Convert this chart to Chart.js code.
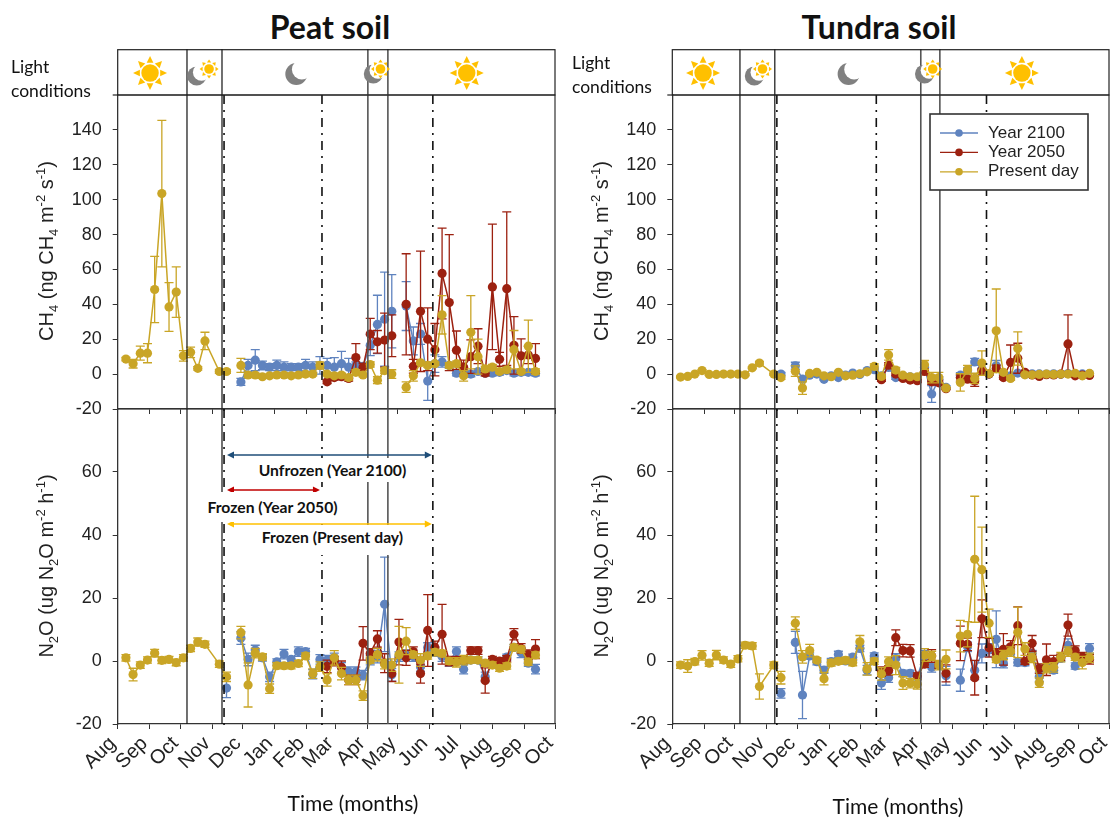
<!DOCTYPE html>
<html>
<head>
<meta charset="utf-8">
<title>Peat and tundra soil fluxes</title>
<script src="https://cdn.jsdelivr.net/npm/chart.js@4/dist/chart.umd.min.js"></script>
<style>
  html, body { margin: 0; background: #fff; }
  #page { position: relative; width: 1112px; height: 818px; overflow: hidden; }
  canvas { position: absolute; }
  .txt { position: absolute; white-space: nowrap; color: #111; z-index: 5; }
  .title { font: bold 32px Lato; transform: translateX(-50%); }
  .xtitle { font: 21px Lato; transform: translateX(-50%); }
  .light { font: 17.5px/24px Lato; }
  .ytitle { font: 20px "Liberation Sans"; transform: translate(-50%, -50%) rotate(-90deg); color: #222; }
  .ytitle sub, .ytitle sup { font-size: 13px; line-height: 0; }
  .note { font: bold 15.7px Lato; background: #fff; text-align: center; }
</style>
</head>
<body>
<div id="page">
  <div class="txt title" style="left:330px; top:7px">Peat soil</div>
  <div class="txt title" style="left:879px; top:7px">Tundra soil</div>
  <div class="txt light" style="left:11px; top:55px">Light<br>conditions</div>
  <div class="txt light" style="left:572px; top:51px">Light<br>conditions</div>
  <div class="txt ytitle" style="left:46px; top:251px">CH<sub>4</sub> (ng CH<sub>4</sub> m<sup>-2</sup> s<sup>-1</sup>)</div>
  <div class="txt ytitle" style="left:46px; top:566px">N<sub>2</sub>O (ug N<sub>2</sub>O m<sup>-2</sup> h<sup>-1</sup>)</div>
  <div class="txt ytitle" style="left:601px; top:251px">CH<sub>4</sub> (ng CH<sub>4</sub> m<sup>-2</sup> s<sup>-1</sup>)</div>
  <div class="txt ytitle" style="left:601px; top:566px">N<sub>2</sub>O (ug N<sub>2</sub>O m<sup>-2</sup> h<sup>-1</sup>)</div>
  <div class="txt xtitle" style="left:353px; top:790px">Time (months)</div>
  <div class="txt xtitle" style="left:898px; top:793px">Time (months)</div>
  <div class="txt note" style="left:255px; top:458px; width:155px; line-height:24px">Unfrozen (Year 2100)</div>
  <div class="txt note" style="left:205px; top:492px; width:135px; line-height:30px">Frozen (Year 2050)</div>
  <div class="txt note" style="left:255px; top:525px; width:155px; line-height:24px; padding-bottom:6px">Frozen (Present day)</div>
  <canvas id="peatCh4" width="560" height="370" style="left:0; top:49px"></canvas>
  <canvas id="peatN2o" width="560" height="400" style="left:0; top:400px"></canvas>
  <canvas id="tundraCh4" width="552" height="370" style="left:560px; top:49px"></canvas>
  <canvas id="tundraN2o" width="552" height="400" style="left:560px; top:400px"></canvas>
</div>

<script>
const __ = null;    // no sample, the line breaks here
const NA = 'NA';    // no sample, the line carries on across it
const gap = n => Array(n).fill(null);

const monthLabels = ['Aug', 'Sep', 'Oct', 'Nov', 'Dec', 'Jan', 'Feb', 'Mar', 'Apr', 'May', 'Jun', 'Jul', 'Aug', 'Sep', 'Oct'];
const monthStarts = [0, 31, 61, 92, 122, 153, 184, 212, 243, 273, 304, 334, 365, 396, 426];
const ch4Ticks = [-20, 0, 20, 40, 60, 80, 100, 120, 140];
const n2oTicks = [-20, 0, 20, 40, 60];
const seriesNames = ['Present day', 'Year 2050', 'Year 2100'];

// days since 1 Aug, one sample a week
const sampleDays = [8, 15, 22, 29, 36, 43, 50, 57, 64, 71,
  78, 85, 92, 99, 106, 113, 120, 127, 134, 141,
  148, 155, 162, 169, 176, 183, 190, 197, 204, 211,
  218, 225, 232, 239, 246, 253, 260, 267, 274, 281,
  288, 295, 302, 309, 316, 323, 330, 337, 344, 351,
  358, 365, 372, 379, 386, 393, 400, 407];

const peatCh4Present = [8.6, 6, 12, 12, 48.5, 103.5, 38.5, 47, 10.5, 12.5,
  3.3, 19, NA, 1.5, 1.5, __, 5, -0.5, -0.5, -1.5,
  -1, -0.5, -0.5, -1, -0.5, 0, 0, 5, 0, -1,
  -0.5, -2, 1, -0.5, 5.5, -3.5, 2, 0, __, -7.5,
  -1, 6.5, 5, 6, 34, 5, 6, -1, 24, 10,
  3, 4, 1.5, 2.5, 14, 1.5, 16, 1.5];
const peatCh4PresentErr = [1, 2.5, 4, 5.5, 19, 42, 14, 14.5, 3, 3,
  1, 5, 0, 1, 1, 0, 4, 1.5, 1, 1,
  1, 1, 1, 1, 1, 1, 1, 2, 1, 1,
  1, 1.5, 1.5, 1, 1.5, 2, 1.5, 2.5, 0, 3,
  3, 1, 1, 1, 11, 1.5, 1.5, 3, 21, 10,
  1.5, 1.5, 1, 1.5, 11, 1, 15, 1.5];
const peatCh42050 = [...gap(28), -4.4, -2, -1.5, -2.5, 9.5, 4, 23, 18.5, 19.5, 22,
  __, 40, 4.5, 36, 20, 14, 57.7, 41, 13.7, 4,
  10, 16, 0.5, 50, 8.5, 49, 16.5, 10.5, 11, 9];
const peatCh42050Err = [...gap(28), 1, 1.5, 1, 1.5, 8, 2, 9, 6.5, 15.5, 12,
  0, 29, 4, 34.5, 18, 15, 26, 39, 11, 4,
  9.6, 10, 1.5, 36, 4, 44, 16.5, 9.7, 5, 8.5];
const peatCh42100 = [...gap(16), -4.5, 5, 8, 5, 4, 5, 4, 4, 4, 5,
  4, 5, 5, 4, 6, 4, 5, 4.5, 16.6, 28.5,
  31.5, 36, __, 39, 19, 23, -4, 6, 7, 5,
  0.5, 1, 0, 1.5, 0.5, 0.5, 1, 2, 0.5, 1, 1, 0.5];
const peatCh42100Err = [...gap(16), 2, 3.5, 6, 2.5, 2, 3, 3, 2, 2, 3.5,
  3, 5, 4, 5.5, 7, 5, 2, 2, 6, 16.7,
  27, 21, 0, 14, 8, 6, 11, 5, 3, 1.5,
  1.5, 1.5, 1.5, 1.5, 1.5, 1.5, 1.5, 1.5, 1.5, 1.5, 1.5, 1.5];

const peatN2oPresent = [1, -4.3, -1.3, 0.3, 2.5, 0.2, 0.5, -0.5, 1, 4,
  6, 5.3, NA, -1, -5, __, 9, -7.6, 2.5, 1.3,
  -8.8, -1.5, -1.5, -1.5, -0.8, 1.6, -4, -1.8, -6, 1,
  -4, -6, -6, -11, 0.3, 2, -1, -1.3, 2, 6.3,
  2, 0.3, 1.6, 2.8, 2.4, 0, -0.4, 0.3, 0.3, 0.3,
  -0.7, -1.3, -2.3, -1.6, 4.3, 3.7, -0.3, 1.9];
const peatN2oPresentErr = [1, 2, 1, 1, 1.2, 1, 1, 1, 1, 1,
  1.3, 1, 0, 1, 1.5, 0, 2, 7, 1.5, 1,
  1.5, 1, 1, 1, 1, 1, 1.5, 1.5, 2, 2.3,
  2, 1.5, 1.5, 1.5, 1, 2, 1.5, 2, 9, 4.3,
  1, 2, 1, 1, 1, 1, 1.5, 1.5, 1, 1,
  1, 1, 1, 1, 1, 1, 1, 1];
const peatN2o2050 = [...gap(28), -1.7, 0, -2, -6, -6, 5.6, 2.4, 7, -0.7, -4,
  6, 1, 3, -4, 9.7, 4.3, 8.5, 0, 0.3, 0.3,
  3.3, 3.3, -6.2, 0.5, 0, 0.7, 8.5, 4, 2, 3.8];
const peatN2o2050Err = [...gap(28), 2, 1.5, 2, 1.5, 1.5, 5.3, 1.5, 2.6, 3, 2.5,
  7.2, 2.4, 1.5, 3, 11.4, 2, 9.5, 1.5, 1, 1,
  1.2, 1.2, 4, 1, 1, 1, 1.8, 1.5, 1.5, 3];
const peatN2o2100 = [...gap(14), -8.6, __, 7.3, 0.5, 3.5, 1, -5, -0.3, 2.2, 0.5,
  3, 3, -4.2, 0.5, 0.3, 1, -2, -3.4, -3.4, -4.5,
  0.3, 1.4, 18, -4.4, 1.4, 2, 1.4, -1.8, 4.3, 3,
  1.4, -0.2, 3, -2.6, 0.3, 0.3, -5, -0.7, -0.7, 1.2,
  4.3, 2.6, -0.7, -2.6];
const peatN2o2100Err = [...gap(14), 3, 0, 2, 2, 1.5, 1, 1.5, 1, 1.5, 1,
  1.5, 1, 1.5, 1.5, 1.5, 1.5, 1.5, 1.5, 1.5, 1.5,
  1.5, 2, 15, 2, 1.5, 1.5, 1.5, 1.5, 1.5, 1.5,
  1.5, 1.5, 1.5, 1.5, 1, 1, 1.5, 1, 1, 1,
  1, 1.5, 1, 1.5];

const tundraCh4Present = [-1.7, -1.3, 0, 2, -0.2, -0.2, 0, 0, 0, -0.4,
  3.6, 6.3, NA, 0, -2, __, 1.7, -8, 0.4, 1,
  -1, -1.5, 1, -1, -0.6, 0.2, 1.3, 4.4, -1.3, 11,
  2.3, -0.6, -1.5, -1.5, 5.3, -2, -2, -8, __, -4.8,
  2.5, -2.5, 6.3, 0.2, 24.8, 1, -2.5, 14.7, -0.4, -0.4,
  -0.2, 0, -0.2, 0, 0, 0.5, -1, 0.4];
const tundraCh4PresentErr = [0.5, 0.5, 0.5, 0.5, 0.5, 0.5, 0.5, 0.5, 0.5, 0.5,
  0.5, 1, 0, 0.5, 1, 0, 3, 3.6, 0.5, 0.5,
  0.5, 0.5, 0.5, 0.5, 0.5, 0.5, 0.5, 1.5, 1, 3,
  1.5, 0.5, 1, 1, 2.5, 3, 3, 0.5, 0, 5,
  2.5, 3, 7, 0.5, 24, 0.5, 1, 9.5, 0.5, 0.5,
  0.5, 0.5, 0.5, 0.5, 0.5, 0.5, 0.5, 0.5];
const tundraCh42050 = [...gap(28), -3.2, 5.1, 0, -2.5, -3.4, -3.8, 1.5, -4.4, -5, -8.4,
  __, -2, -2.9, -4, 2, 0, 3.2, -2, 6.7, 9.1,
  1, -0.5, -1.3, -0.3, -0.5, 0, 17.3, -1, -0.6, -0.8];
const tundraCh42050Err = [...gap(28), 1, 1.5, 1, 1, 1, 1, 1.5, 1.5, 1.5, 0.5,
  0, 2, 1.5, 3, 1, 0.5, 2, 1, 10, 8.6,
  0.5, 0.5, 0.5, 0.5, 0.5, 0.5, 16.6, 0.5, 0.5, 0.5];
const tundraCh42100 = [...gap(14), 0, __, 4.8, -2.9, -0.6, 0, -3, -1, -2, -0.6,
  0.6, -0.2, 2, 2.5, -1, 3.8, -2, -1, -1.5, -2,
  3.8, -11.4, -2.9, -7.6, __, -0.6, 2, 7, 3, 0,
  4.8, 0, -1, 0.6, -0.2, 0.2, 0.1, 0, 0.2, -0.1,
  0.3, 0, 0.1, 0.2];
const tundraCh42100Err = [...gap(14), 1, 0, 2, 1, 0.5, 0.5, 0.5, 0.5, 0.5, 0.5,
  0.5, 0.5, 0.5, 1, 1, 1, 1, 1, 1, 1,
  1, 4.8, 1.5, 1, 0, 1.5, 1.5, 2, 3, 0.5,
  3, 0.5, 0.5, 0.5, 0.5, 0.5, 0.5, 0.5, 0.5, 0.5,
  0.5, 0.5, 0.5, 0.5];

const tundraN2oPresent = [-1.3, -1.6, -0.2, 1.8, -0.7, 1.9, 0.3, -1, 0.7, 5,
  4.8, -8.1, NA, -1.3, -5.3, __, 12, 1.3, 3.3, 0.3,
  -5.6, -0.6, -0.1, 0.2, -0.5, 6.1, -2.5, -0.1, -4.1, -0.2,
  -1.3, -7, -7, -7.4, 1.9, 1.6, -1.3, 0.5, __, 7.9,
  8.5, 32.3, 29, 12, 0.5, 1.9, 3, 9.1, 3.8, 1,
  -6.9, -2.3, -2, 1.2, 3, 1.2, -0.5, 1];
const tundraN2oPresentErr = [1, 2, 1, 1.5, 1, 1.5, 1, 1, 1, 1,
  1, 4, 0, 1, 2, 0, 2, 2, 2, 0.8,
  2, 1, 1, 1, 1, 2, 2, 1, 2, 1.5,
  3, 2, 1.5, 1.5, 2, 1.5, 1.5, 3, 0, 5,
  4, 20, 13.5, 4.5, 1, 1.5, 1.5, 8, 2, 1.5,
  1.5, 1.5, 1.5, 1.5, 1.5, 1, 2, 1.5];
const tundraN2o2050 = [...gap(28), -3.4, -3, 7.4, 3.3, 3.2, -4.8, -1, 1.6, -1.3, -3.9,
  __, 5.6, 5.3, -5.3, 13.4, 4.2, 2.4, 3.7, 4.5, 11.2,
  -0.1, 5.6, -2.4, 0.4, -0.2, 1.2, 11.4, 3.3, 1.2, 0.5];
const tundraN2o2050Err = [...gap(28), 1.5, 1.5, 2.5, 2, 2, 1, 1, 2, 1, 2.7,
  0, 5.5, 2, 5.5, 6, 3, 1.5, 5, 2, 6,
  1, 2.5, 1.5, 5, 2, 1, 3.5, 1.5, 1.5, 1.5];
const tundraN2o2100 = [...gap(14), -10.3, __, 5.9, -10.8, 1.6, -0.2, -2.9, -0.2, 2.1, 0,
  1.2, 4, -2.9, 1.6, -7, -5.3, 0.8, -3.9, -3.9, -5,
  1.9, -2, -1.3, -4.7, __, -6.1, 4.5, -2.9, 2.4, 3.5,
  6.9, -0.7, 3.5, -0.5, -0.5, 2.4, -5, -1.8, -2.9, 0.8,
  5, -1.6, 1.4, 4];
const tundraN2o2100Err = [...gap(14), 1.5, 0, 3.5, 7.5, 1, 1, 1, 1, 1, 1,
  1, 1, 1.5, 1, 2, 1.5, 1.5, 1, 1, 1,
  1.5, 1.5, 1, 3, 0, 3.5, 1.5, 3, 3, 2,
  9, 1.5, 1.5, 1, 1, 1, 1.5, 1, 1, 1,
  2, 1, 1, 1.5];

// vertical markers and light strip icons, in days since 1 Aug
const peatSolid = [67.5, 101.6, 243.7, 263.2];
const peatDashed = [103.6, 199, 307];
const tundraSolid = [66, 100, 242.4, 261];
const tundraDashed = [102, 199, 306.5];
const peatIcons = [['sun', 31.5], ['moon', 77], ['smallSun', 89], ['moon', 174], ['moon', 249], ['smallSun', 256], ['sun', 340]];
const tundraIcons = [['sun', 30], ['moon', 80], ['smallSun', 88], ['moon', 172], ['moon', 246], ['smallSun', 254], ['sun', 341]];

const colors = ['#c9a526', '#9c2110', '#5f83bf'];
const axisColor = '#333';

Chart.defaults.font.family = '"Liberation Sans"';
Chart.defaults.color = '#222';

function buildDataset(i, values, errs) {
  const points = sampleDays
    .map((d, k) => ({x: d, y: values[k], err: errs[k]}))
    .filter(p => p.y !== NA);
  return {
    label: seriesNames[i],
    data: points,
    borderColor: colors[i],
    backgroundColor: colors[i],
    borderWidth: 1.5,
    pointRadius: 4.6,
    pointHoverRadius: 4.6,
    pointBorderWidth: 0,
    tension: 0,
    spanGaps: false,
    clip: false
  };
}

function drawSun(ctx, x, y, body, outer) {
  ctx.save();
  ctx.fillStyle = '#ffc000';
  ctx.beginPath();
  ctx.arc(x, y, body, 0, Math.PI * 2);
  ctx.fill();
  for (let i = 0; i < 8; i++) {
    const a = i * Math.PI / 4;
    const w = 0.32;
    ctx.beginPath();
    ctx.moveTo(x + Math.cos(a) * outer, y + Math.sin(a) * outer);
    ctx.lineTo(x + Math.cos(a + w) * (body + 2), y + Math.sin(a + w) * (body + 2));
    ctx.lineTo(x + Math.cos(a - w) * (body + 2), y + Math.sin(a - w) * (body + 2));
    ctx.fill();
  }
  ctx.restore();
}

function drawMoon(ctx, x, y, r) {
  ctx.save();
  ctx.fillStyle = '#808080';
  ctx.beginPath();
  ctx.arc(x, y, r, 0, Math.PI * 2);
  ctx.fill();
  ctx.fillStyle = '#fff';
  ctx.beginPath();
  ctx.arc(x + r * 0.5, y - r * 0.4, r * 0.9, 0, Math.PI * 2);
  ctx.fill();
  ctx.restore();
}

function drawStrip(chart, icons) {
  const {ctx, chartArea: a, scales: {x}} = chart;
  ctx.save();
  ctx.strokeStyle = '#222';
  ctx.lineWidth = 1.2;
  ctx.strokeRect(a.left, 0.7, a.right - a.left, a.top - 0.7);
  ctx.beginPath();
  ctx.moveTo(a.left - 5, a.top);
  ctx.lineTo(a.left, a.top);
  ctx.stroke();
  ctx.restore();
  icons.forEach(([kind, day]) => {
    const px = x.getPixelForValue(day);
    if (kind === 'sun') drawSun(ctx, px, 24, 8.7, 17);
    if (kind === 'moon') drawMoon(ctx, px, day < 100 ? 27 : 25, day > 150 && day < 200 ? 11 : 9.5);
    if (kind === 'smallSun') drawSun(ctx, px, 20, 4.8, 9.5);
  });
}

function drawLegend(chart) {
  const {ctx} = chart;
  const box = {x: 370, y: 65, w: 158, h: 76};
  ctx.save();
  ctx.fillStyle = '#fff';
  ctx.fillRect(box.x, box.y, box.w, box.h);
  ctx.strokeStyle = '#333';
  ctx.lineWidth = 1.6;
  ctx.strokeRect(box.x, box.y, box.w, box.h);
  ctx.font = '17px "Liberation Sans"';
  ctx.textBaseline = 'middle';
  [2, 1, 0].forEach((i, row) => {
    const y = box.y + 19 + row * 19.4;
    ctx.strokeStyle = colors[i];
    ctx.lineWidth = 1.3;
    ctx.beginPath();
    ctx.moveTo(box.x + 10, y);
    ctx.lineTo(box.x + 48, y);
    ctx.stroke();
    ctx.fillStyle = colors[i];
    ctx.beginPath();
    ctx.arc(box.x + 29, y, 3.8, 0, Math.PI * 2);
    ctx.fill();
    ctx.fillStyle = '#222';
    ctx.fillText(seriesNames[i], box.x + 58, y);
  });
  ctx.restore();
}

const panelDecor = {
  id: 'panelDecor',
  beforeDatasetDraw(chart, args) {
    // error bars go under the line and points of their own series
    const {ctx, scales: {x, y}} = chart;
    const ds = chart.data.datasets[args.index];
    ctx.save();
    ctx.strokeStyle = ds.borderColor;
    ctx.lineWidth = 1.3;
    ctx.beginPath();
    ds.data.forEach(p => {
      if (p.y === null || !p.err) return;
      const px = x.getPixelForValue(p.x);
      const top = y.getPixelForValue(p.y + p.err);
      const bot = y.getPixelForValue(p.y - p.err);
      ctx.moveTo(px, top);
      ctx.lineTo(px, bot);
      ctx.moveTo(px - 4.5, top);
      ctx.lineTo(px + 4.5, top);
      ctx.moveTo(px - 4.5, bot);
      ctx.lineTo(px + 4.5, bot);
    });
    ctx.stroke();
    ctx.restore();
  },
  afterDraw(chart, args, opts) {
    const {ctx, chartArea: a, scales: {x, y}} = chart;
    const solidTop = opts.icons ? 0 : a.top;
    ctx.save();
    ctx.strokeStyle = axisColor;
    ctx.lineWidth = 1.2;
    ctx.beginPath();
    ctx.moveTo(a.left, a.top);
    ctx.lineTo(a.right, a.top);
    ctx.lineTo(a.right, a.bottom);
    ctx.stroke();
    opts.solid.forEach((day, i) => {
      const px = x.getPixelForValue(day);
      ctx.strokeStyle = i < 2 ? '#111' : '#555';
      ctx.lineWidth = i < 2 ? 1.2 : 1.6;
      ctx.beginPath();
      ctx.moveTo(px, solidTop);
      ctx.lineTo(px, a.bottom);
      ctx.stroke();
    });
    ctx.strokeStyle = '#111';
    ctx.lineWidth = 1.6;
    ctx.setLineDash([9, 6, 2, 6]);
    opts.dashed.forEach(day => {
      const px = x.getPixelForValue(day);
      ctx.beginPath();
      ctx.moveTo(px, a.top);
      ctx.lineTo(px, a.bottom + 3);
      ctx.stroke();
    });
    ctx.setLineDash([]);
    (opts.arrows || []).forEach(([from, to, val, color]) => {
      const x0 = x.getPixelForValue(from);
      const x1 = x.getPixelForValue(to);
      const py = y.getPixelForValue(val);
      ctx.strokeStyle = color;
      ctx.fillStyle = color;
      ctx.lineWidth = 1.6;
      ctx.beginPath();
      ctx.moveTo(x0 + 4, py);
      ctx.lineTo(x1 - 4, py);
      ctx.stroke();
      [[x0, 1], [x1, -1]].forEach(([tip, dir]) => {
        ctx.beginPath();
        ctx.moveTo(tip, py);
        ctx.lineTo(tip + dir * 7, py - 3.5);
        ctx.lineTo(tip + dir * 7, py + 3.5);
        ctx.fill();
      });
    });
    ctx.restore();
    if (opts.icons) drawStrip(chart, opts.icons);
    if (opts.legend) drawLegend(chart);
  }
};

// the plot areas have to sit at fixed places, so drop the padding scales ask for
function pinScale(s, size) {
  s[s.isHorizontal() ? 'height' : 'width'] = size;
  s.paddingLeft = s.paddingRight = s.paddingTop = s.paddingBottom = 0;
}

function makePanel(id, cfg) {
  new Chart(document.getElementById(id), {
    type: 'line',
    plugins: [panelDecor],
    data: {
      datasets: [
        buildDataset(0, cfg.series[0], cfg.series[1]),
        buildDataset(1, cfg.series[2], cfg.series[3]),
        buildDataset(2, cfg.series[4], cfg.series[5])
      ]
    },
    options: {
      responsive: false,
      animation: false,
      events: [],
      layout: {autoPadding: false, padding: {left: 0, right: cfg.right, top: cfg.top, bottom: 0}},
      plugins: {
        legend: {display: false},
        tooltip: {enabled: false},
        panelDecor: {solid: cfg.solid, dashed: cfg.dashed, icons: cfg.icons, legend: cfg.legend, arrows: cfg.arrows}
      },
      scales: {
        x: {
          type: 'linear',
          min: 0,
          max: 426,
          afterBuildTicks: s => { s.ticks = monthStarts.map(v => ({value: v})); },
          afterFit: s => pinScale(s, cfg.xHeight),
          border: {color: axisColor, width: 1.3},
          grid: {drawOnChartArea: false, color: axisColor, tickLength: 5},
          ticks: {
            display: cfg.showMonths,
            autoSkip: false,
            maxRotation: 45,
            minRotation: 45,
            padding: 3,
            labelOffset: -5,
            font: {size: 20},
            callback: v => monthLabels[monthStarts.indexOf(v)]
          }
        },
        y: {
          min: cfg.yMin,
          max: cfg.yMax,
          afterBuildTicks: s => { s.ticks = cfg.yTicks.map(v => ({value: v})); },
          afterFit: s => pinScale(s, cfg.yWidth),
          border: {color: axisColor, width: 1.3},
          grid: {drawOnChartArea: false, color: axisColor, tickLength: 5},
          ticks: {padding: 11, font: {size: 18}, callback: v => String(v)}
        }
      }
    }
  });
}

const ch4Frame = {yMin: -20, yMax: 160, yTicks: ch4Ticks, top: 46, xHeight: 10, showMonths: false};
const n2oFrame = {yMin: -20, yMax: 80, yTicks: n2oTicks, top: 9, xHeight: 76, showMonths: true};
const peatFrame = {yWidth: 117.7, right: 5, solid: peatSolid, dashed: peatDashed};
const tundraFrame = {yWidth: 112.3, right: 3, solid: tundraSolid, dashed: tundraDashed};

makePanel('peatCh4', {...ch4Frame, ...peatFrame, icons: peatIcons,
  series: [peatCh4Present, peatCh4PresentErr, peatCh42050, peatCh42050Err, peatCh42100, peatCh42100Err]});
makePanel('peatN2o', {...n2oFrame, ...peatFrame,
  arrows: [[106.5, 306, 65.4, '#1f4e79'], [106.5, 197, 54.3, '#c00000'], [106.5, 306, 43.5, '#ffc000']],
  series: [peatN2oPresent, peatN2oPresentErr, peatN2o2050, peatN2o2050Err, peatN2o2100, peatN2o2100Err]});
makePanel('tundraCh4', {...ch4Frame, ...tundraFrame, icons: tundraIcons, legend: true,
  series: [tundraCh4Present, tundraCh4PresentErr, tundraCh42050, tundraCh42050Err, tundraCh42100, tundraCh42100Err]});
makePanel('tundraN2o', {...n2oFrame, ...tundraFrame,
  series: [tundraN2oPresent, tundraN2oPresentErr, tundraN2o2050, tundraN2o2050Err, tundraN2o2100, tundraN2o2100Err]});
</script>
</body>
</html>
